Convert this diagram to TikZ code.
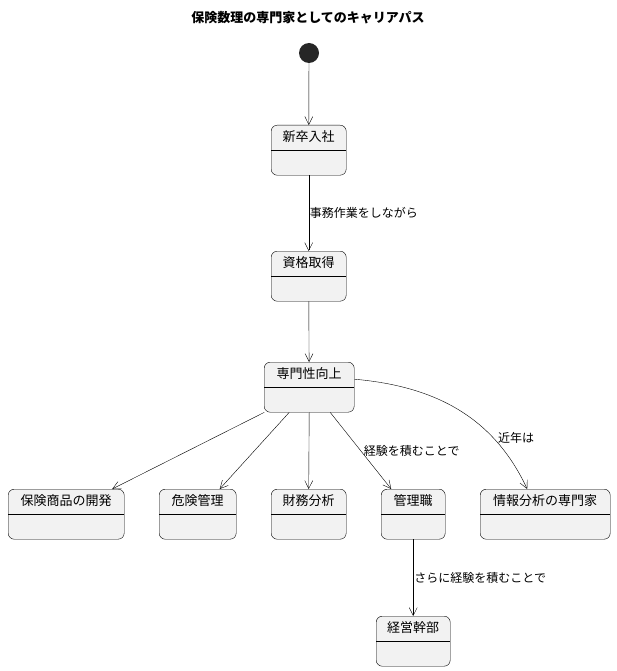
\documentclass[tikz,border=0pt]{standalone}
\usepackage{fontspec}
\setmainfont{Noto Sans CJK JP}
\usetikzlibrary{arrows.meta,calc}
\begin{document}
\begin{tikzpicture}[x=1pt,y=-1pt,
    state/.style={draw, rounded corners=6pt, fill=gray!10, font=\fontsize{13}{15}\selectfont,
      inner xsep=0pt, inner ysep=6pt, text height=10pt, text depth=28pt, anchor=north west,
      path picture={\draw ([yshift=-25pt]path picture bounding box.north west) -- ([yshift=-25pt]path picture bounding box.north east);}},
    edgeLabel/.style={font=\fontsize{12}{14}\selectfont, inner sep=1pt},
    arrowStrong/.style={draw, -{Straight Barb[length=8pt,width=8pt]}},
  ]
  \useasboundingbox (0,0) rectangle (616,671);
  \node[font=\bfseries\fontsize{13}{15}\selectfont] (title) at (308,18) {保険数理の専門家としてのキャリアパス};
  \node[circle, fill=black!85, minimum size=20pt, inner sep=0pt] (start) at (309,53) {};
  % states
  \node[state, minimum width=75pt] (newHire) at (271,125) {新卒入社};
  \node[state, minimum width=75pt] (license) at (271,251) {資格取得};
  \node[state, minimum width=90pt] (expert) at (264,362) {専門性向上};
  \node[state, minimum width=116pt] (product) at (8,489) {保険商品の開発};
  \node[state, minimum width=77pt] (risk) at (159,489) {危険管理};
  \node[state, minimum width=75pt] (finance) at (271,489) {財務分析};
  \node[state, minimum width=64pt] (manager) at (381,489) {管理職};
  \node[state, minimum width=130pt] (analyst) at (480,489) {情報分析の専門家};
  \node[state, minimum width=74pt] (executive) at (376,616) {経営幹部};
  % Arrow
  \draw[arrowStrong] (start) -- (newHire);
  \draw[arrowStrong] (newHire) -- node[edgeLabel, right] {事務作業をしながら} (license);
  \draw[arrowStrong] (license) -- (expert);
  \draw[arrowStrong] ($(expert.south)+(-45,0)$) -- ($(product.north)+(46,0)$);
  \draw[arrowStrong] ($(expert.south)+(-20,0)$) -- ($(risk.north)+(22,0)$);
  \draw[arrowStrong] (expert.south) -- (finance.north);
  \draw[arrowStrong] ($(expert.south)+(21,0)$) -- node[edgeLabel, right, pos=0.5, xshift=2pt] {経験を積むことで} ($(manager.north)+(-22,0)$);
  \draw[arrowStrong] ($(expert.east)+(0,-8)$) to[out=-5, in=115] node[edgeLabel, pos=0.72, right, xshift=4pt] {近年は} ($(analyst.north)+(-18,0)$);
  \draw[arrowStrong] ($(manager.south)+(0,0)$) -- node[edgeLabel, right] {さらに経験を積むことで} (executive.north -| manager.south);
\end{tikzpicture}
\end{document}
